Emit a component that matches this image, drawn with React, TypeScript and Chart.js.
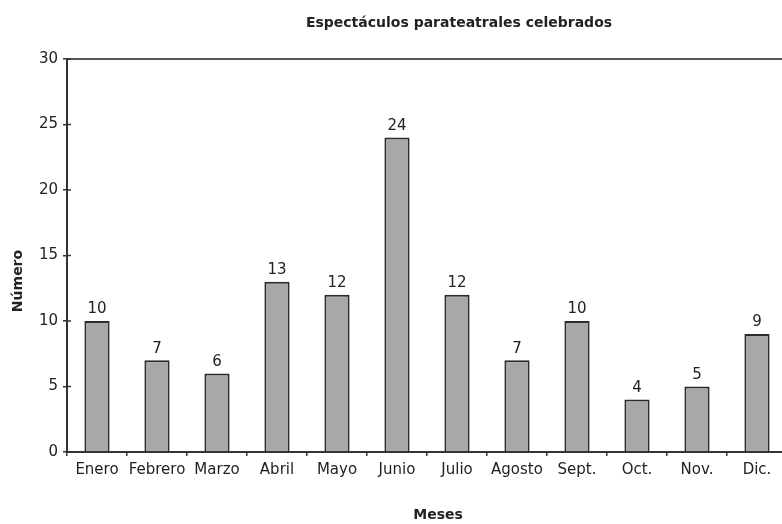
import React, { useEffect, useRef } from "react";
import { Chart, registerables } from "chart.js";

Chart.register(...registerables);

const TITLE = "Espectáculos parateatrales celebrados";
const X_TITLE = "Meses";
const Y_TITLE = "Número";
const MONTHS = ["Enero", "Febrero", "Marzo", "Abril", "Mayo", "Junio", "Julio", "Agosto", "Sept.", "Oct.", "Nov.", "Dic."];
const VALUES = [10, 7, 6, 13, 12, 24, 12, 7, 10, 4, 5, 9];
const Y_MIN = 0;
const Y_MAX = 30;
const Y_STEP = 5;

const FONT = "'DejaVu Sans', Arial, sans-serif";
const TEXT = "#222222";
const AXIS = "#333333";

const decorPlugin = {
  id: "decor",
  afterDatasetsDraw(chart: any) {
    const { ctx, chartArea } = chart;
    ctx.save();
    // top frame line
    ctx.strokeStyle = "#555555";
    ctx.lineWidth = 2;
    ctx.beginPath();
    ctx.moveTo(chartArea.left, chartArea.top);
    ctx.lineTo(chartArea.right, chartArea.top);
    ctx.stroke();
    // inner y tick marks
    const yScale = chart.scales.y;
    ctx.strokeStyle = AXIS;
    ctx.lineWidth = 1.5;
    yScale.ticks.forEach((t: any) => {
      const py = yScale.getPixelForValue(t.value);
      ctx.beginPath();
      ctx.moveTo(chartArea.left, py);
      ctx.lineTo(chartArea.left + 4, py);
      ctx.stroke();
    });
    // value labels
    ctx.fillStyle = TEXT;
    ctx.font = `15px ${FONT}`;
    ctx.textAlign = "center";
    ctx.textBaseline = "bottom";
    const meta = chart.getDatasetMeta(0);
    meta.data.forEach((el: any, i: number) => {
      ctx.fillText(String(VALUES[i]), el.x, el.y - 4);
    });
    // titles
    ctx.font = `bold 14px ${FONT}`;
    ctx.textBaseline = "middle";
    ctx.fillText(TITLE, 459, 23);
    ctx.fillText(X_TITLE, 438, 515);
    ctx.translate(18, 281);
    ctx.rotate(-Math.PI / 2);
    ctx.fillText(Y_TITLE, 0, 0);
    ctx.restore();
  },
};

export default function App() {
  const ref = useRef<HTMLCanvasElement>(null);
  useEffect(() => {
    document.body.style.overflow = "hidden";
    const chart = new Chart(ref.current!, {
      type: "bar",
      data: {
        labels: MONTHS,
        datasets: [
          {
            data: VALUES,
            backgroundColor: "#a8a8a8",
            borderColor: "#2b2b2b",
            borderWidth: 2,
            barPercentage: 0.42,
            categoryPercentage: 1,
          },
        ],
      },
      options: {
        animation: false,
        responsive: false,
        devicePixelRatio: 1,
        layout: { padding: { top: 59, right: 13, left: 0, bottom: 0 } },
        plugins: { legend: { display: false }, title: { display: false }, tooltip: { enabled: false } },
        scales: {
          x: {
            offset: true,
            grid: { offset: true, drawOnChartArea: false, tickLength: 4, color: AXIS, lineWidth: 1.5 },
            border: { color: AXIS, width: 2 },
            ticks: { font: { family: FONT, size: 15 }, color: TEXT, padding: 5, maxRotation: 0, autoSkip: false },
            afterFit: (s: any) => { s.height = 72; },
          },
          y: {
            min: Y_MIN,
            max: Y_MAX,
            grid: { drawOnChartArea: false, tickLength: 4, color: AXIS, lineWidth: 1.5 },
            border: { color: AXIS, width: 2 },
            ticks: { stepSize: Y_STEP, font: { family: FONT, size: 15 }, color: TEXT, padding: 5 },
            afterFit: (s: any) => { s.width = 67; },
          },
        },
      },
      plugins: [decorPlugin],
    });
    return () => chart.destroy();
  }, []);
  return (
    <div style={{ position: "absolute", left: 0, top: 0, width: 800, height: 524, background: "#fff" }}>
      <canvas ref={ref} width={800} height={524} />
    </div>
  );
}
